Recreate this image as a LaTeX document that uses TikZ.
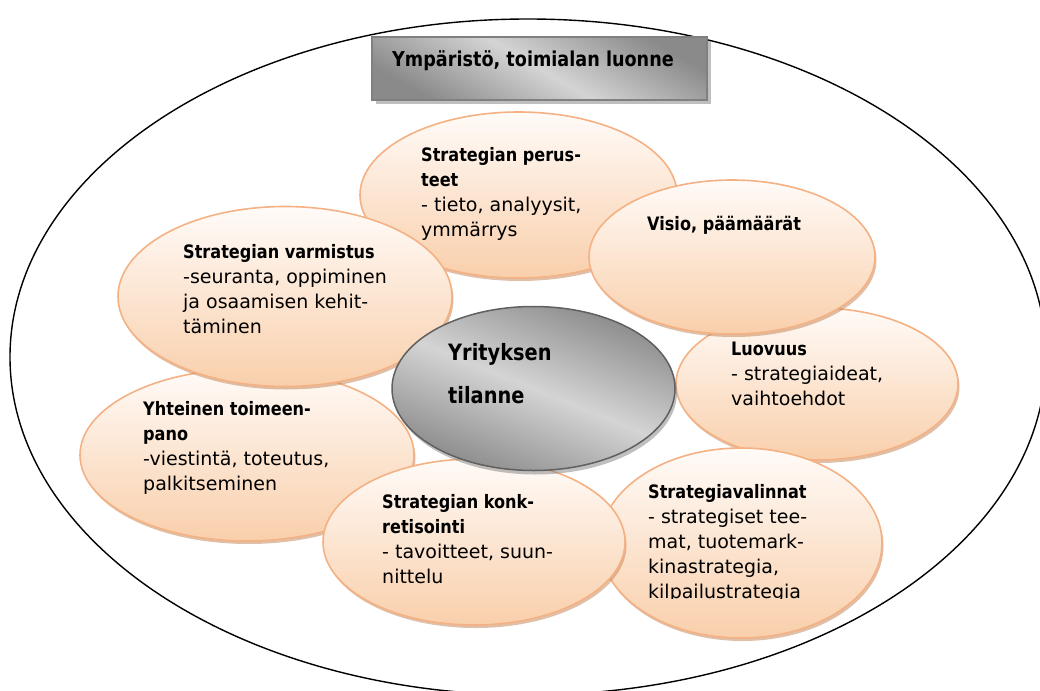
\documentclass[tikz,border=0pt]{standalone}
\usepackage{fontspec}
\setmainfont{DejaVu Sans}
\newfontfamily\hdfont{DejaVu Sans}[FakeStretch=0.87]
\newfontfamily\corefont{DejaVu Sans}[FakeStretch=0.86]
\usetikzlibrary{shapes.geometric,shadows}
\definecolor{peachtop}{HTML}{FFFBF8}
\definecolor{peachbot}{HTML}{F9CFAB}
\definecolor{peachline}{HTML}{F4B183}
\definecolor{peachshadow}{HTML}{C08050}
\definecolor{graydark}{HTML}{8A8A8A}
\definecolor{graylight}{HTML}{D4D4D4}
\definecolor{grayline}{HTML}{606060}
\newcommand\hd[1]{{\hdfont\fontsize{18.5}{25}\selectfont\bfseries #1}}
\tikzset{
  petal/.style={ellipse, draw=peachline, line width=1.6pt, top color=peachtop, bottom color=peachbot,
    inner sep=0pt, drop shadow={shadow xshift=1.5pt, shadow yshift=-3pt, fill=peachshadow, opacity=0.5}},
  core/.style={ellipse, draw=grayline, line width=1.5pt, top color=graydark, bottom color=graydark,
    middle color=graylight, shading angle=-22, inner sep=0pt,
    drop shadow={shadow xshift=2pt, shadow yshift=-4pt, fill=gray, opacity=0.5}},
  titlebox/.style={rectangle, draw=grayline!80, line width=1.2pt, top color=graydark, bottom color=graydark,
    middle color=graylight, shading angle=-30, inner sep=0pt,
    drop shadow={shadow xshift=4pt, shadow yshift=-4pt, fill=gray, opacity=0.5}},
  petaltext/.style={anchor=north west, inner sep=0pt, align=left, font=\fontsize{19}{25}\selectfont},
  envline/.style={ellipse, draw=black, line width=1.4pt, inner sep=0pt}
}
\begin{document}
\begin{tikzpicture}[x=1pt,y=-1pt]
\path[use as bounding box] (0,0) rectangle (1040,690);
% environment
\node[envline, minimum width=1036pt, minimum height=676pt] (env) at (528,357) {};
\node[titlebox, minimum width=335pt, minimum height=63pt] (title) at (539.5,68.5) {};
\node[anchor=base west, inner sep=0pt, font=\corefont\fontsize{20.5}{24}\selectfont\bfseries] (titletext) at (392,67) {Ympäristö, toimialan luonne};
% petals
\node[petal, minimum width=317pt, minimum height=166pt] (perusteet) at (518.5,195) {};
\node[petaltext] (perusteettext) at (421,143.5) {\strut\hd{Strategian perus-}\\\hd{teet}\\- tieto, analyysit,\\ymmärrys};
\node[petal, minimum width=282pt, minimum height=152pt] (luovuus) at (817,384) {};
\node[petaltext] (luovuustext) at (731,337.5) {\strut\hd{Luovuus}\\- strategiaideat,\\vaihtoehdot};
\node[petal, minimum width=282pt, minimum height=190pt] (valinnat) at (741,543) {};
\begin{scope}
\clip (600,440) rectangle (900,598);
\node[petaltext] (valinnattext) at (648,480.5) {\strut\hd{Strategiavalinnat}\\- strategiset tee-\\mat, tuotemark-\\kinastrategia,\\kilpailustrategia};
\end{scope}
\node[petal, minimum width=286pt, minimum height=154pt] (visio) at (732,257) {};
\node[petaltext] (visiotext) at (647,212.5) {\strut\hd{Visio, päämäärät}};
\node[petal, minimum width=334pt, minimum height=172pt] (yhteinen) at (247,455) {};
\node[petaltext] (yhteinentext) at (143,397.5) {\strut\hd{Yhteinen toimeen-}\\\hd{pano}\\-viestintä, toteutus,\\palkitseminen};
\node[petal, minimum width=302pt, minimum height=166pt] (konkret) at (474,542) {};
\node[petaltext] (konkrettext) at (382,490.5) {\strut\hd{Strategian konk-}\\\hd{retisointi}\\- tavoitteet, suun-\\nittelu};
\node[petal, minimum width=334pt, minimum height=180pt] (varmistus) at (285,296.5) {};
\node[petaltext] (varmistustext) at (183,240.5) {\strut\hd{Strategian varmistus}\\-seuranta, oppiminen\\ja osaamisen kehit-\\täminen};
% core
\node[core, minimum width=283pt, minimum height=164pt] (core) at (533.5,388.5) {};
\node[anchor=north west, inner sep=0pt, align=left, font=\corefont\fontsize{22.5}{43}\selectfont\bfseries] (coretext) at (448,329.9) {\strut Yrityksen\\tilanne};
\end{tikzpicture}
\end{document}
